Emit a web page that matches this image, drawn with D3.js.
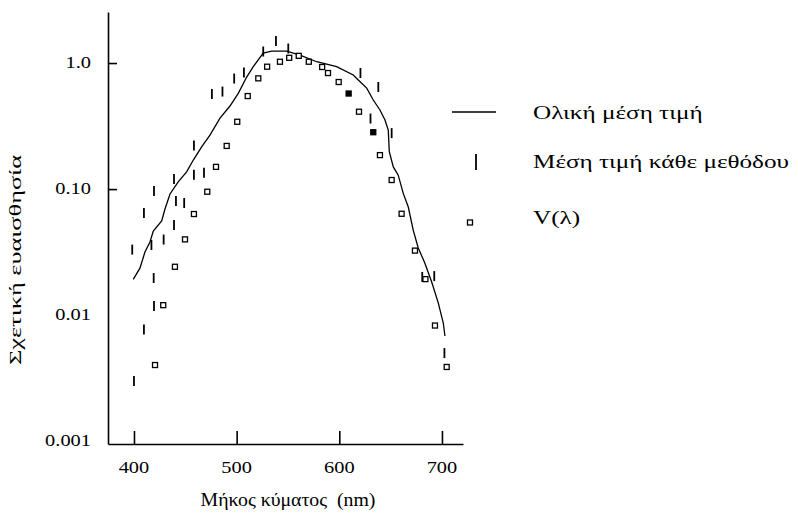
<!DOCTYPE html>
<html>
<head>
<meta charset="utf-8">
<script src="https://cdn.jsdelivr.net/npm/d3@7"></script>
<style>
  body { margin: 0; background: #fff; }
  text { font-family: "Liberation Serif", "Times New Roman", serif; fill: #000; white-space: pre; }
</style>
</head>
<body>
<svg id="chart" width="798" height="524"></svg>
<script>
// Axis ticks
const xTicks = [400, 500, 600, 700];
const yTickValues = [1, 0.1, 0.01, 0.001];
const yTickLabels = ["1.0", "0.10", "0.01", "0.001"];
const yTickMarks = [1, 0.1];

// Overall mean sensitivity (solid curve)
const totalWl = [399.3, 405.8, 410.7, 415.6, 418.8, 427.0, 430.2, 435.1, 443.1, 451.3,
  457.8, 465.9, 474.0, 483.8, 493.5, 501.6, 509.8, 516.2, 525.9, 534.1,
  548.7, 561.7, 578.0, 597.4, 613.6, 618.5, 626.7, 633.1, 639.6, 644.5,
  647.7, 648.7, 652.6, 657.4, 662.3, 667.2, 672.0, 676.9, 683.4, 690.0,
  696.4, 701.3, 702.9];
const totalVal = [0.0192, 0.0236, 0.0317, 0.0380, 0.0465, 0.0558, 0.0695, 0.0914, 0.114, 0.137,
  0.170, 0.216, 0.268, 0.366, 0.456, 0.575, 0.774, 0.935, 1.20, 1.245,
  1.245, 1.157, 1.024, 0.935, 0.803, 0.733, 0.633, 0.509, 0.424, 0.353,
  0.294, 0.198, 0.150, 0.129, 0.0925, 0.0721, 0.0473, 0.0341, 0.0258, 0.0183,
  0.0125, 0.00866, 0.00683];

// Mean of each method (vertical bars)
const methodWl = [400.0, 398.3, 409.7, 409.7, 419.5, 419.2, 417.0, 419.5, 428.9, 439.0,
  439.0, 440.9, 448.9, 458.4, 468.2, 458.4, 475.9, 486.2, 497.6, 507.1,
  525.9, 538.3, 550.3, 620.6, 638.0, 630.4, 651.0, 680.8, 692.5, 702.4];
const methodVal = [0.0030, 0.0331, 0.00768, 0.0646, 0.0118, 0.0197, 0.0360, 0.0965, 0.0398, 0.0519,
  0.120, 0.0804, 0.0775, 0.130, 0.135, 0.222, 0.568, 0.594, 0.753, 0.841,
  1.234, 1.495, 1.303, 0.833, 0.645, 0.363, 0.278, 0.0201, 0.0204, 0.0050];

// Photopic luminous efficiency V(λ) (square markers)
const vWl = [420.5, 428.5, 439.9, 449.7, 458.4, 471.4, 479.9, 490.3, 500.6, 510.8,
  521.1, 529.7, 542.2, 551.2, 560.5, 570.3, 583.3, 589.0, 599.4, 609.1,
  619.2, 633.1, 639.6, 651.0, 660.7, 673.7, 683.9, 693.2, 704.6];
const vVal = [0.00402, 0.0120, 0.0242, 0.0399, 0.0634, 0.0953, 0.150, 0.220, 0.342, 0.547,
  0.756, 0.935, 1.024, 1.10, 1.14, 1.024, 0.930, 0.833, 0.707, 0.573,
  0.411, 0.2825, 0.186, 0.118, 0.0637, 0.0325, 0.0193, 0.00827, 0.00388];
const vFilled = [0, 0, 0, 0, 0, 0, 0, 0, 0, 0,
  0, 0, 0, 0, 0, 0, 0, 0, 0, 1,
  0, 1, 0, 0, 0, 0, 0, 0, 0];

const legendLabels = ["Ολική μέση τιμή", "Μέση τιμή κάθε μεθόδου", "V(λ)"];
const xTitle = "Μήκος κύματος  (nm)";
const yTitle = "Σχετική ευαισθησία";

const svg = d3.select("#chart");

const x = d3.scaleLinear().domain([374.7, 720.5]).range([108, 463]);
const y = d3.scaleLog().domain([0.00095, 2.54]).range([444, 12]);

// Text with horizontally widened glyphs (wide serif look)
function wideText(parent, tx, ty, str, size, sx, anchor, angle) {
  const g = parent.append("g")
    .attr("transform", `translate(${tx},${ty}) rotate(${angle || 0}) scale(${sx},1)`);
  g.append("text").attr("text-anchor", anchor).attr("dy", "0.35em")
    .style("font-size", size + "px").text(str);
  return g;
}

// Y axis: line with inward ticks at 1.0 and 0.10
const yAxisG = svg.append("g").attr("transform", "translate(108,0)")
  .call(d3.axisRight(y).tickValues(yTickMarks).tickSize(9).tickSizeOuter(0).tickFormat(""));
yAxisG.selectAll("path, line").attr("stroke", "#000").attr("stroke-width", 1.6);

// Y tick labels
const yLabels = svg.append("g");
yTickValues.forEach((v, i) => wideText(yLabels, 91, y(v) - 1, yTickLabels[i], 17, 1.2, "end"));

// X axis: line with inward ticks
const xAxisG = svg.append("g").attr("transform", "translate(0,444)")
  .call(d3.axisTop(x).tickValues(xTicks).tickSize(13).tickSizeOuter(0).tickFormat(""));
xAxisG.selectAll("path, line").attr("stroke", "#000").attr("stroke-width", 1.6);

// X tick labels
const xLabels = svg.append("g");
xTicks.forEach(t => wideText(xLabels, x(t), 467, String(t), 17, 1.2, "middle"));

// Axis titles
wideText(svg, 288, 500, xTitle, 18, 1.1, "middle");
wideText(svg, 15, 260, yTitle, 17, 1.55, "middle", -90);

// Overall mean curve
const totalData = totalWl.map((w, i) => ({ w, v: totalVal[i] }));
svg.append("path").datum(totalData)
  .attr("fill", "none").attr("stroke", "#000").attr("stroke-width", 1.3)
  .attr("d", d3.line().x(d => x(d.w)).y(d => y(d.v)));

// Method means as vertical bars
const methodData = methodWl.map((w, i) => ({ w, v: methodVal[i] }));
svg.append("g").selectAll("line").data(methodData).join("line")
  .attr("x1", d => x(d.w)).attr("x2", d => x(d.w))
  .attr("y1", d => y(d.v) - 5).attr("y2", d => y(d.v) + 5)
  .attr("stroke", "#000").attr("stroke-width", 1.8);

// V(λ) markers
const vData = vWl.map((w, i) => ({ w, v: vVal[i], f: vFilled[i] }));
svg.append("g").selectAll("rect").data(vData).join("rect")
  .attr("x", d => x(d.w) - 2.5).attr("y", d => y(d.v) - 2.5)
  .attr("width", 5).attr("height", 5)
  .attr("fill", d => d.f ? "#000" : "#fff")
  .attr("stroke", "#000").attr("stroke-width", 1.3);

// Legend
const legend = svg.append("g");
legend.append("line").attr("x1", 452).attr("x2", 496).attr("y1", 112).attr("y2", 112)
  .attr("stroke", "#000").attr("stroke-width", 1.3);
legend.append("line").attr("x1", 476).attr("x2", 476).attr("y1", 154).attr("y2", 170)
  .attr("stroke", "#000").attr("stroke-width", 1.8);
legend.append("rect").attr("x", 467.5).attr("y", 220).attr("width", 5).attr("height", 5)
  .attr("fill", "#fff").attr("stroke", "#000").attr("stroke-width", 1.3);
const legendY = [113, 162, 218];
legendLabels.forEach((s, i) => wideText(legend, 533, legendY[i], s, 18, 1.4, "start"));
</script>
</body>
</html>
